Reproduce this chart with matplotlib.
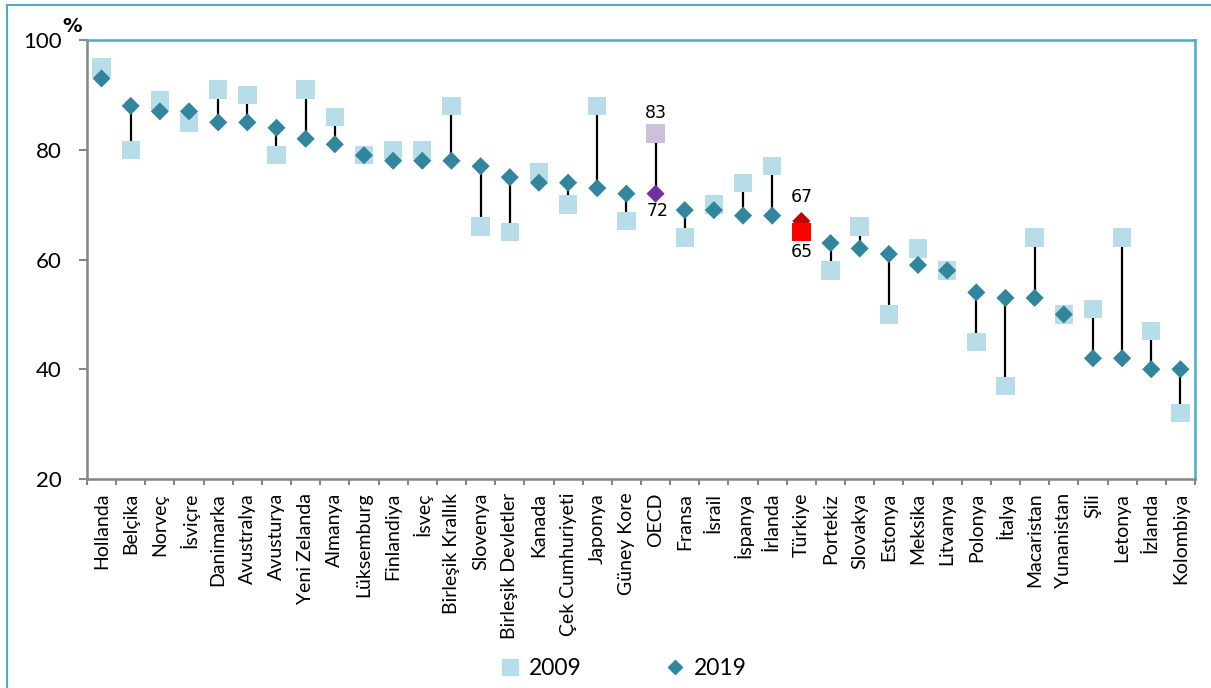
import matplotlib.pyplot as plt
from matplotlib.lines import Line2D

plt.rcParams['font.family'] = ['Lato', 'DejaVu Sans']

# data
countries = ["Hollanda", "Belçika", "Norveç", "İsviçre", "Danimarka", "Avustralya",
             "Avusturya", "Yeni Zelanda", "Almanya", "Lüksemburg", "Finlandiya", "İsveç",
             "Birleşik Krallık", "Slovenya", "Birleşik Devletler", "Kanada",
             "Çek Cumhuriyeti", "Japonya", "Güney Kore", "OECD", "Fransa", "İsrail",
             "İspanya", "İrlanda", "Türkiye", "Portekiz", "Slovakya", "Estonya", "Meksika",
             "Litvanya", "Polonya", "İtalya", "Macaristan", "Yunanistan", "Şili",
             "Letonya", "İzlanda", "Kolombiya"]
y2009 = [95, 80, 89, 85, 91, 90, 79, 91, 86, 79, 80, 80, 88, 66, 65, 76, 70, 88, 67,
         83, 64, 70, 74, 77, 65, 58, 66, 50, 62, 58, 45, 37, 64, 50, 51, 64, 47, 32]
y2019 = [93, 88, 87, 87, 85, 85, 84, 82, 81, 79, 78, 78, 78, 77, 75, 74, 74, 73, 72,
         72, 69, 69, 68, 68, 67, 63, 62, 61, 59, 58, 54, 53, 53, 50, 42, 42, 40, 40]

light_blue = "#B7DEE8"
teal = "#31859C"
frame_blue = "#4BACC6"
axis_gray = "#868686"

sq_colors = [light_blue] * len(countries)
dm_colors = [teal] * len(countries)
i_oecd = countries.index("OECD")
i_tr = countries.index("Türkiye")
sq_colors[i_oecd] = "#CCC0DA"
dm_colors[i_oecd] = "#7030A0"
sq_colors[i_tr] = "#FF0000"
dm_colors[i_tr] = "#C00000"

fig = plt.figure(figsize=(12.11, 6.88), dpi=100)
ax = fig.add_axes([0.0718, 0.3038, 0.915, 0.638])

x = list(range(len(countries)))
lows = [min(a, b) for a, b in zip(y2009, y2019)]
highs = [max(a, b) for a, b in zip(y2009, y2019)]
ax.vlines(x, lows, highs, color="black", lw=1.6, zorder=1)

ax.scatter(x, y2009, marker="s", s=175, c=sq_colors, linewidths=0, zorder=2)
ax.scatter(x, y2019, marker="D", s=85, c=dm_colors, linewidths=0, zorder=3)
# Türkiye square sits on top of its diamond
ax.scatter([i_tr], [y2009[i_tr]], marker="s", s=175, c=sq_colors[i_tr], linewidths=0, zorder=4)

# value labels for OECD and Türkiye
lab_kw = dict(ha="center", va="center", fontsize=12.5, family="DejaVu Sans",
              textcoords="offset points")
ax.annotate(str(y2009[i_oecd]), (i_oecd, y2009[i_oecd]), xytext=(0, 14.5), **lab_kw)
ax.annotate(str(y2019[i_oecd]), (i_oecd, y2019[i_oecd]), xytext=(1.5, -12.5), **lab_kw)
ax.annotate(str(y2019[i_tr]), (i_tr, y2019[i_tr]), xytext=(0, 17), **lab_kw)
ax.annotate(str(y2009[i_tr]), (i_tr, y2009[i_tr]), xytext=(0, -14), **lab_kw)

ax.set_xlim(-0.5, len(countries) - 0.5)
ax.set_ylim(20, 100)
ax.set_yticks([20, 40, 60, 80, 100])
ax.set_xticks(x)
ax.set_xticklabels(countries, rotation=90, va="top", fontsize=14)
ax.set_xticks([i - 0.5 for i in range(len(countries) + 1)], minor=True)
ax.tick_params(axis="x", which="major", length=0, pad=10)
ax.tick_params(axis="x", which="minor", length=4, width=1.5, color=axis_gray)
ax.tick_params(axis="y", length=6, width=1.5, color=axis_gray, pad=12, labelsize=16)

for s in ["left", "bottom"]:
    ax.spines[s].set_color(axis_gray)
    ax.spines[s].set_linewidth(1.8)
for s in ["top", "right"]:
    ax.spines[s].set_color(frame_blue)
    ax.spines[s].set_linewidth(1.8)

fig.text(72 / 1211, 1 - 27 / 688, "%", fontsize=14, fontweight="bold",
         family="DejaVu Sans", ha="center", va="center")

handles = [
    Line2D([], [], ls="none", marker="s", markersize=11, color=light_blue),
    Line2D([], [], ls="none", marker="D", markersize=7.5, color=teal),
]
fig.legend(handles, ["2009", "2019"], loc="center", bbox_to_anchor=(0.514, 0.029),
           ncol=2, frameon=False, fontsize=16.5, columnspacing=3.6,
           handletextpad=0.3, handlelength=1)

# outer chart frame (top and left edges visible)
fig.add_artist(Line2D([7 / 1211, 7 / 1211], [0, 1 - 5 / 688], transform=fig.transFigure,
                      color=frame_blue, lw=1.5))
fig.add_artist(Line2D([7 / 1211, 1], [1 - 5 / 688, 1 - 5 / 688], transform=fig.transFigure,
                      color=frame_blue, lw=1.5))

fig.savefig("out.png", dpi=100)
